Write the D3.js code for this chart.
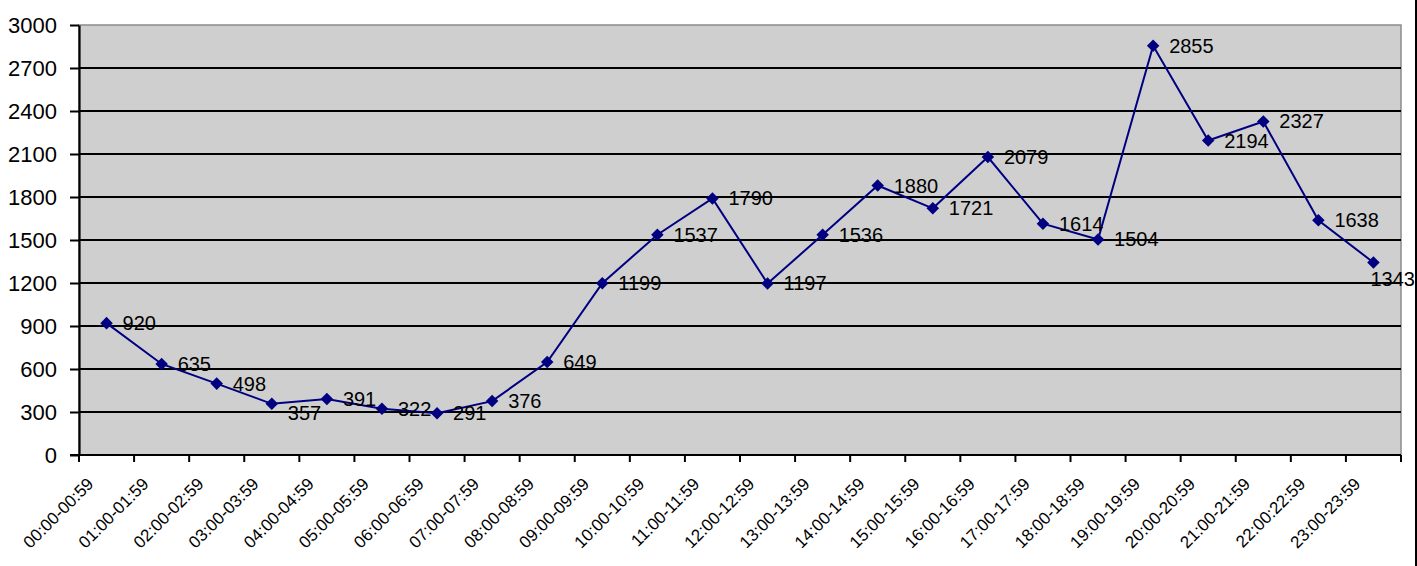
<!DOCTYPE html>
<html lang="en">
<head>
	<meta charset="utf-8">
	<title>Hourly counts</title>
	<script src="https://cdn.jsdelivr.net/npm/d3@7/dist/d3.min.js"></script>
	<style>
		body { margin: 0; background: #fff; }
		text { font-family: "Liberation Sans", Arial, sans-serif; fill: #000; }
	</style>
</head>
<body>
<script>
	// Data
	var hours = ["00:00-00:59", "01:00-01:59", "02:00-02:59", "03:00-03:59", "04:00-04:59",
		"05:00-05:59", "06:00-06:59", "07:00-07:59", "08:00-08:59", "09:00-09:59",
		"10:00-10:59", "11:00-11:59", "12:00-12:59", "13:00-13:59", "14:00-14:59",
		"15:00-15:59", "16:00-16:59", "17:00-17:59", "18:00-18:59", "19:00-19:59",
		"20:00-20:59", "21:00-21:59", "22:00:22:59", "23:00-23:59"];
	var counts = [920, 635, 498, 357, 391, 322, 291, 376, 649, 1199, 1537, 1790,
		1197, 1536, 1880, 1721, 2079, 1614, 1504, 2855, 2194, 2327, 1638, 1343];
	var yTicks = [0, 300, 600, 900, 1200, 1500, 1800, 2100, 2400, 2700, 3000];

	var w = 1417, h = 566;
	var plotL = 79, plotR = 1401, plotT = 25, plotB = 455;

	var svg = d3.select("body").append("svg")
		.attr("width", w)
		.attr("height", h);

	var x = d3.scaleBand()
		.domain(hours)
		.range([plotL, plotR])
		.padding(0);

	var y = d3.scaleLinear()
		.domain([0, d3.max(yTicks)])
		.range([plotB, plotT]);

	// plot background
	svg.append("rect")
		.attr("x", plotL)
		.attr("y", plotT)
		.attr("width", plotR - plotL)
		.attr("height", plotB - plotT)
		.attr("fill", "#cfcfcf")
		.attr("stroke", "#8c8c8c")
		.attr("stroke-width", 1.5);

	// horizontal gridlines
	svg.selectAll(".grid")
		.data(yTicks.filter(function(d) { return d > 0 && d < d3.max(yTicks); }))
		.enter().append("line")
		.attr("class", "grid")
		.attr("x1", plotL)
		.attr("x2", plotR)
		.attr("y1", function(d) { return y(d); })
		.attr("y2", function(d) { return y(d); })
		.attr("stroke", "#000")
		.attr("stroke-width", 2);

	// y axis
	var yAxis = svg.append("g")
		.attr("transform", "translate(" + plotL + ",0)")
		.call(d3.axisLeft(y).tickValues(yTicks).tickFormat(d3.format("d"))
			.tickSize(9).tickPadding(13).tickSizeOuter(0));
	yAxis.select(".domain").attr("stroke-width", 2.2);
	yAxis.selectAll(".tick line").attr("stroke-width", 2);
	yAxis.selectAll("text")
		.attr("font-size", 22)
		.attr("font-family", "'Liberation Sans', Arial, sans-serif");

	// x axis: ticks sit on the category boundaries
	var bounds = hours.map(function(d) { return x(d); }).concat([plotR]);
	svg.append("line")
		.attr("x1", plotL - 9).attr("x2", plotR)
		.attr("y1", plotB).attr("y2", plotB)
		.attr("stroke", "#000")
		.attr("stroke-width", 2.2);
	svg.selectAll(".xtick")
		.data(bounds)
		.enter().append("line")
		.attr("class", "xtick")
		.attr("x1", function(d) { return d; })
		.attr("x2", function(d) { return d; })
		.attr("y1", plotB)
		.attr("y2", plotB + 7)
		.attr("stroke", "#000")
		.attr("stroke-width", 2);

	svg.selectAll(".xlabel")
		.data(hours)
		.enter().append("text")
		.attr("class", "xlabel")
		.attr("text-anchor", "end")
		.attr("font-size", 17)
		.attr("transform", function(d) {
			return "translate(" + (x(d) + x.bandwidth() / 2 - 12) + "," + (plotB + 30) + ") rotate(-45)";
		})
		.text(function(d) { return d; });

	// series line and markers
	var cx = function(d, i) { return x(hours[i]) + x.bandwidth() / 2; };
	var line = d3.line()
		.x(cx)
		.y(function(d) { return y(d); });

	svg.append("path")
		.datum(counts)
		.attr("d", line)
		.attr("fill", "none")
		.attr("stroke", "#000080")
		.attr("stroke-width", 2);

	svg.selectAll(".marker")
		.data(counts)
		.enter().append("path")
		.attr("class", "marker")
		.attr("d", d3.symbol().type(d3.symbolDiamond2).size(100))
		.attr("transform", function(d, i) { return "translate(" + cx(d, i) + "," + y(d) + ")"; })
		.attr("fill", "#000080");

	// value labels, a couple nudged like in the original
	var nudge = { 3: [0, 9], 23: [-19, 16] };
	svg.selectAll(".vlabel")
		.data(counts)
		.enter().append("text")
		.attr("class", "vlabel")
		.attr("font-size", 20)
		.attr("x", function(d, i) { return cx(d, i) + 16 + (nudge[i] ? nudge[i][0] : 0); })
		.attr("y", function(d, i) { return y(d) + 7 + (nudge[i] ? nudge[i][1] : 0); })
		.text(function(d) { return d; });

	// right border of the chart frame
	svg.append("line")
		.attr("x1", 1416).attr("x2", 1416)
		.attr("y1", 0).attr("y2", h)
		.attr("stroke", "#000")
		.attr("stroke-width", 2);
</script>
</body>
</html>
